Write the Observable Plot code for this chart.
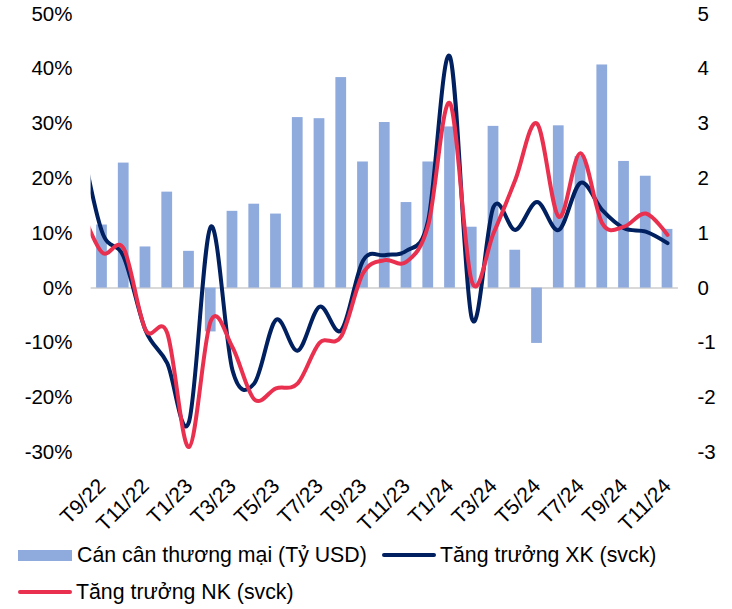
<!DOCTYPE html>
<html>
<head>
<meta charset="utf-8">
<script src="https://cdn.jsdelivr.net/npm/d3@7"></script>
<script src="https://cdn.jsdelivr.net/npm/@observablehq/plot@0.6"></script>
<style>
  html, body { margin: 0; padding: 0; background: #fff; }
  #wrap { position: relative; width: 732px; height: 609px; font-family: "Liberation Sans", Arial, sans-serif; color: #000; }
  .leg { position: absolute; display: flex; align-items: center; font-size: 21.3px; line-height: 24px; white-space: nowrap; }
  .sw-bar { width: 54px; height: 11px; background: #8faadc; margin-right: 5px; }
  .sw-line { width: 54px; height: 4px; border-radius: 2px; margin-right: 4px; }
</style>
</head>
<body>
<div id="wrap"></div>
<script>
// Categories (months)
const months = ["T9/22","T10/22","T11/22","T12/22","T1/23","T2/23","T3/23","T4/23","T5/23","T6/23","T7/23","T8/23","T9/23","T10/23","T11/23","T12/23","T1/24","T2/24","T3/24","T4/24","T5/24","T6/24","T7/24","T8/24","T9/24","T10/24","T11/24"];
// Trade balance, bn USD (right axis)
const balance = [1.15, 2.28, 0.75, 1.75, 0.67, -0.80, 1.40, 1.53, 1.35, 3.11, 3.09, 3.84, 2.30, 3.02, 1.56, 2.30, 2.94, 1.11, 2.95, 0.69, -1.01, 2.96, 2.40, 4.07, 2.31, 2.04, 1.07];
// Line series start one month earlier (T8/22), which is clipped at the left edge
const lineMonths = ["T8/22", ...months];
// Export growth y/y, % (left axis)
const xkGrowth = [28, 10.3, 5.7, -7.7, -13.7, -24.4, 11.2, -15.0, -17.4, -5.8, -11.4, -3.4, -7.7, 5.0, 6.0, 6.8, 12.4, 42.2, -5.5, 14.8, 10.6, 15.7, 10.6, 19.2, 14.2, 10.9, 10.3, 8.2];
// Import growth y/y, % (left axis)
const nkGrowth = [15, 6.5, 7.2, -7.6, -8.2, -29.0, -6.0, -10.8, -20.3, -18.3, -17.4, -10.0, -8.8, 2.7, 5.1, 4.8, 11.5, 33.7, 1.2, 10.0, 19.7, 30.0, 13.0, 24.6, 11.8, 11.2, 13.6, 9.7];
// Axis ticks
const leftTicks = [-30, -20, -10, 0, 10, 20, 30, 40, 50];
const rightTicks = [-3, -2, -1, 0, 1, 2, 3, 4, 5];
const xTickLabels = ["T9/22","T11/22","T1/23","T3/23","T5/23","T7/23","T9/23","T11/23","T1/24","T3/24","T5/24","T7/24","T9/24","T11/24"];

const barData = months.map((m, i) => ({i, month: m, bal: balance[i]}));
const lineData = lineMonths.map((m, k) => ({i: k - 1, month: m, xk: xkGrowth[k], nk: nkGrowth[k]}));
const ratio = 10; // right-axis unit = 10 percentage points on the left axis

const smooth = d3.curveCardinal.tension(0);

const chart = Plot.plot({
  width: 732,
  height: 540,
  marginTop: 13.5,
  marginBottom: 88,
  marginLeft: 90.6,
  marginRight: 54.1,
  style: {fontFamily: "'Liberation Sans', Arial, sans-serif", fontSize: "21px", color: "#000", background: "#fff"},
  x: {type: "linear", domain: [-0.5, months.length - 0.5]},
  y: {domain: [-30, 50]},
  marks: [
    Plot.ruleY([0], {stroke: "#d9d9d9", strokeWidth: 2}),
    Plot.rectY(barData, {x1: d => d.i - 0.5, x2: d => d.i + 0.5, y1: 0, y2: d => d.bal * ratio, fill: "#8faadc", insetLeft: 5.5, insetRight: 5.5}),
    Plot.line(lineData, {x: "i", y: "xk", stroke: "#002060", strokeWidth: 4, curve: smooth, clip: true}),
    Plot.line(lineData, {x: "i", y: "nk", stroke: "#e9304f", strokeWidth: 4, curve: smooth, clip: true}),
    Plot.axisY({anchor: "left", ticks: leftTicks, tickFormat: d => d + "%", tickSize: 0, tickPadding: 18.6, fontSize: 20.5, label: null}),
    Plot.axisY({anchor: "right", ticks: rightTicks.map(d => d * ratio), tickFormat: d => String(d / ratio), tickSize: 0, tickPadding: 19, fontSize: 20.5, label: null}),
    Plot.axisX({ticks: xTickLabels.map(l => months.indexOf(l)), tickFormat: i => months[i], tickRotate: -45, tickSize: 0, tickPadding: 30, fontSize: 21, label: null})
  ]
});

const wrap = document.getElementById("wrap");
wrap.appendChild(chart);

function legendItem(left, top, swatchHtml, text) {
  const d = document.createElement("div");
  d.className = "leg";
  d.style.left = left + "px";
  d.style.top = top + "px";
  d.innerHTML = swatchHtml + "<span>" + text + "</span>";
  wrap.appendChild(d);
}
legendItem(18, 543, '<div class="sw-bar"></div>', "Cán cân thương mại (Tỷ USD)");
legendItem(382, 543, '<div class="sw-line" style="background:#002060"></div>', "Tăng trưởng XK (svck)");
legendItem(18, 580, '<div class="sw-line" style="background:#e9304f"></div>', "Tăng trưởng NK (svck)");
</script>
</body>
</html>
